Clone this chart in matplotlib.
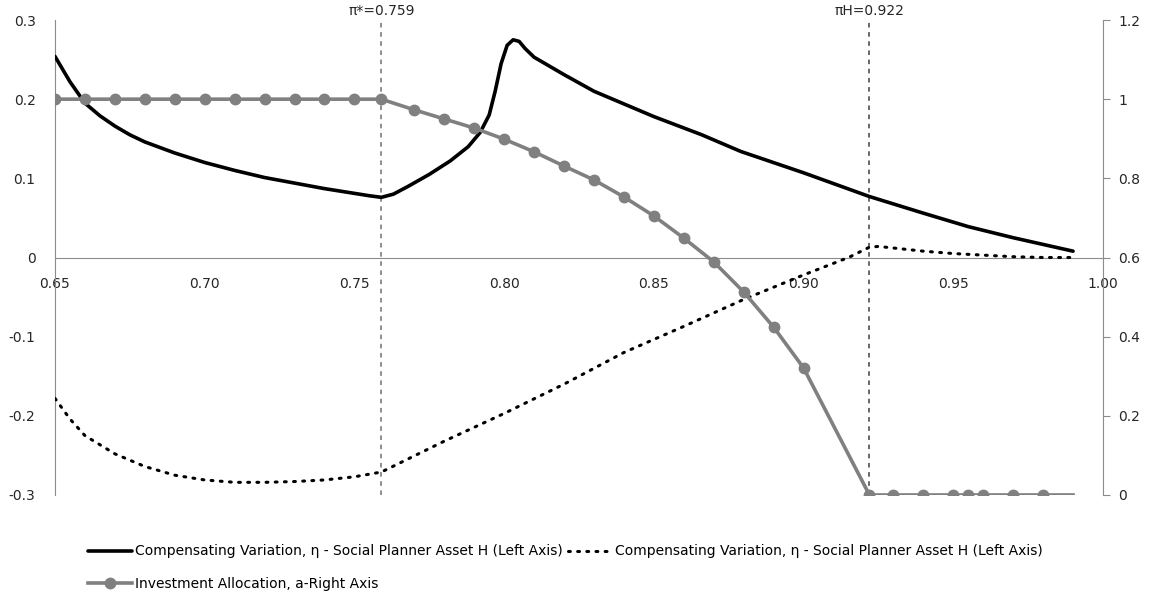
import matplotlib.pyplot as plt
import numpy as np

# compensating variation, solid (left axis)
cv_solid_x = [0.65, 0.655, 0.66, 0.665, 0.67, 0.675, 0.68, 0.69, 0.70, 0.71, 0.72, 0.73, 0.74, 0.75,
              0.755, 0.759, 0.763, 0.768, 0.775, 0.782, 0.788, 0.792, 0.795, 0.797, 0.799, 0.801,
              0.803, 0.805, 0.807, 0.81, 0.82, 0.83, 0.85, 0.866, 0.879, 0.90, 0.922, 0.94, 0.955,
              0.97, 0.99]
cv_solid_y = [0.254, 0.222, 0.195, 0.179, 0.166, 0.155, 0.146, 0.132, 0.120, 0.110, 0.101, 0.094,
              0.087, 0.081, 0.078, 0.076, 0.080, 0.090, 0.105, 0.122, 0.140, 0.158, 0.180, 0.210,
              0.245, 0.268, 0.275, 0.273, 0.264, 0.253, 0.231, 0.210, 0.178, 0.155, 0.134, 0.107,
              0.077, 0.056, 0.039, 0.025, 0.008]

# compensating variation, dotted (left axis)
cv_dot_x = [0.65, 0.655, 0.66, 0.67, 0.68, 0.69, 0.70, 0.71, 0.72, 0.73, 0.74, 0.75, 0.759,
            0.78, 0.80, 0.82, 0.84, 0.86, 0.88, 0.90, 0.915, 0.922, 0.925, 0.93, 0.94, 0.95,
            0.96, 0.97, 0.98, 0.99]
cv_dot_y = [-0.178, -0.204, -0.225, -0.248, -0.264, -0.275, -0.281, -0.284, -0.284, -0.283, -0.281,
            -0.277, -0.271, -0.232, -0.197, -0.160, -0.120, -0.087, -0.053, -0.022, 0.0, 0.013,
            0.014, 0.012, 0.008, 0.005, 0.003, 0.001, 0.0, 0.0]

# investment allocation a (right axis)
alloc_x = [0.65, 0.66, 0.67, 0.68, 0.69, 0.70, 0.71, 0.72, 0.73, 0.74, 0.75, 0.759,
           0.77, 0.78, 0.79, 0.80, 0.81, 0.82, 0.83, 0.84, 0.85, 0.86, 0.87, 0.88, 0.89, 0.90,
           0.922, 0.93, 0.94, 0.95, 0.955, 0.96, 0.97, 0.98, 0.99]
alloc_y = [1, 1, 1, 1, 1, 1, 1, 1, 1, 1, 1, 1,
           0.973, 0.95, 0.927, 0.899, 0.867, 0.831, 0.796, 0.753, 0.705, 0.649, 0.589, 0.513,
           0.424, 0.321, 0, 0, 0, 0, 0, 0, 0, 0, 0]

pi_star = 0.759
pi_h = 0.922

x_ticks = [0.65, 0.70, 0.75, 0.80, 0.85, 0.90, 0.95, 1.00]
left_ticks = [-0.3, -0.2, -0.1, 0, 0.1, 0.2, 0.3]
right_ticks = [0, 0.2, 0.4, 0.6, 0.8, 1.0, 1.2]

label_cv = "Compensating Variation, \u03b7 - Social Planner Asset H (Left Axis)"
label_a = "Investment Allocation, a-Right Axis"

fig = plt.figure(figsize=(11.49, 5.99), dpi=100)
ax = fig.add_axes([55 / 1149, 1 - 495 / 599, (1103 - 55) / 1149, 475 / 599])
ax2 = ax.twinx()

ax.set_xlim(0.65, 1.00)
ax.set_ylim(-0.3, 0.3)
ax2.set_ylim(0, 1.2)

grey = '#8c8c8c'
txt = '#262626'

l1, = ax.plot(cv_solid_x, cv_solid_y, color='black', lw=2.6, solid_capstyle='round',
              solid_joinstyle='round', zorder=3)
l2, = ax.plot(cv_dot_x, cv_dot_y, color='black', lw=2.2, linestyle=(0, (0.6, 2.4)),
              dash_capstyle='round', zorder=3)
l3, = ax2.plot(alloc_x, alloc_y, color='#808080', lw=2.6, marker='o', markersize=7.5,
               markevery=list(range(len(alloc_x) - 1)), zorder=2)

for xv, name, col in [(pi_star, "\u03c0*=0.759", '#707070'), (pi_h, "\u03c0H=0.922", '#404040')]:
    ax.axvline(xv, ymin=0, ymax=1, color=col, lw=1.1, linestyle=(0, (3, 3)), zorder=1)
    ax.text(xv, 0.302, name, ha='center', va='bottom', fontsize=10, color=txt,
            family=['DejaVu Sans'])

# axes styling
ax.spines['top'].set_visible(False)
ax.spines['right'].set_visible(False)
ax.spines['left'].set_color(grey)
ax.spines['bottom'].set_position(('data', 0))
ax.spines['bottom'].set_color(grey)
for s in ['top', 'left', 'bottom']:
    ax2.spines[s].set_visible(False)
ax2.spines['right'].set_color(grey)

ax.set_xticks(x_ticks)
ax.set_xticklabels([f"{v:.2f}" for v in x_ticks])
ax.set_yticks(left_ticks)
ax.set_yticklabels(["0" if v == 0 else f"{v:g}" for v in left_ticks])
ax.tick_params(axis='x', length=0, pad=14, labelsize=10, labelcolor=txt)
ax.tick_params(axis='y', length=0, pad=14, labelsize=10, labelcolor=txt)

ax2.set_yticks(right_ticks)
ax2.set_yticklabels([f"{v:g}" for v in right_ticks])
ax2.tick_params(axis='y', length=5, color=grey, pad=6, labelsize=10, labelcolor=txt)

fig.legend([l1, l3, l2], [label_cv, label_a, label_cv], loc='upper left',
           bbox_to_anchor=(75 / 1149, 1 - 532 / 599), ncol=2, frameon=False,
           handlelength=3.2, handletextpad=0.2, columnspacing=0.4, labelspacing=1.3,
           prop={'family': ['Liberation Sans Narrow', 'DejaVu Sans'], 'size': 10})

fig.savefig('out.png', dpi=100)
